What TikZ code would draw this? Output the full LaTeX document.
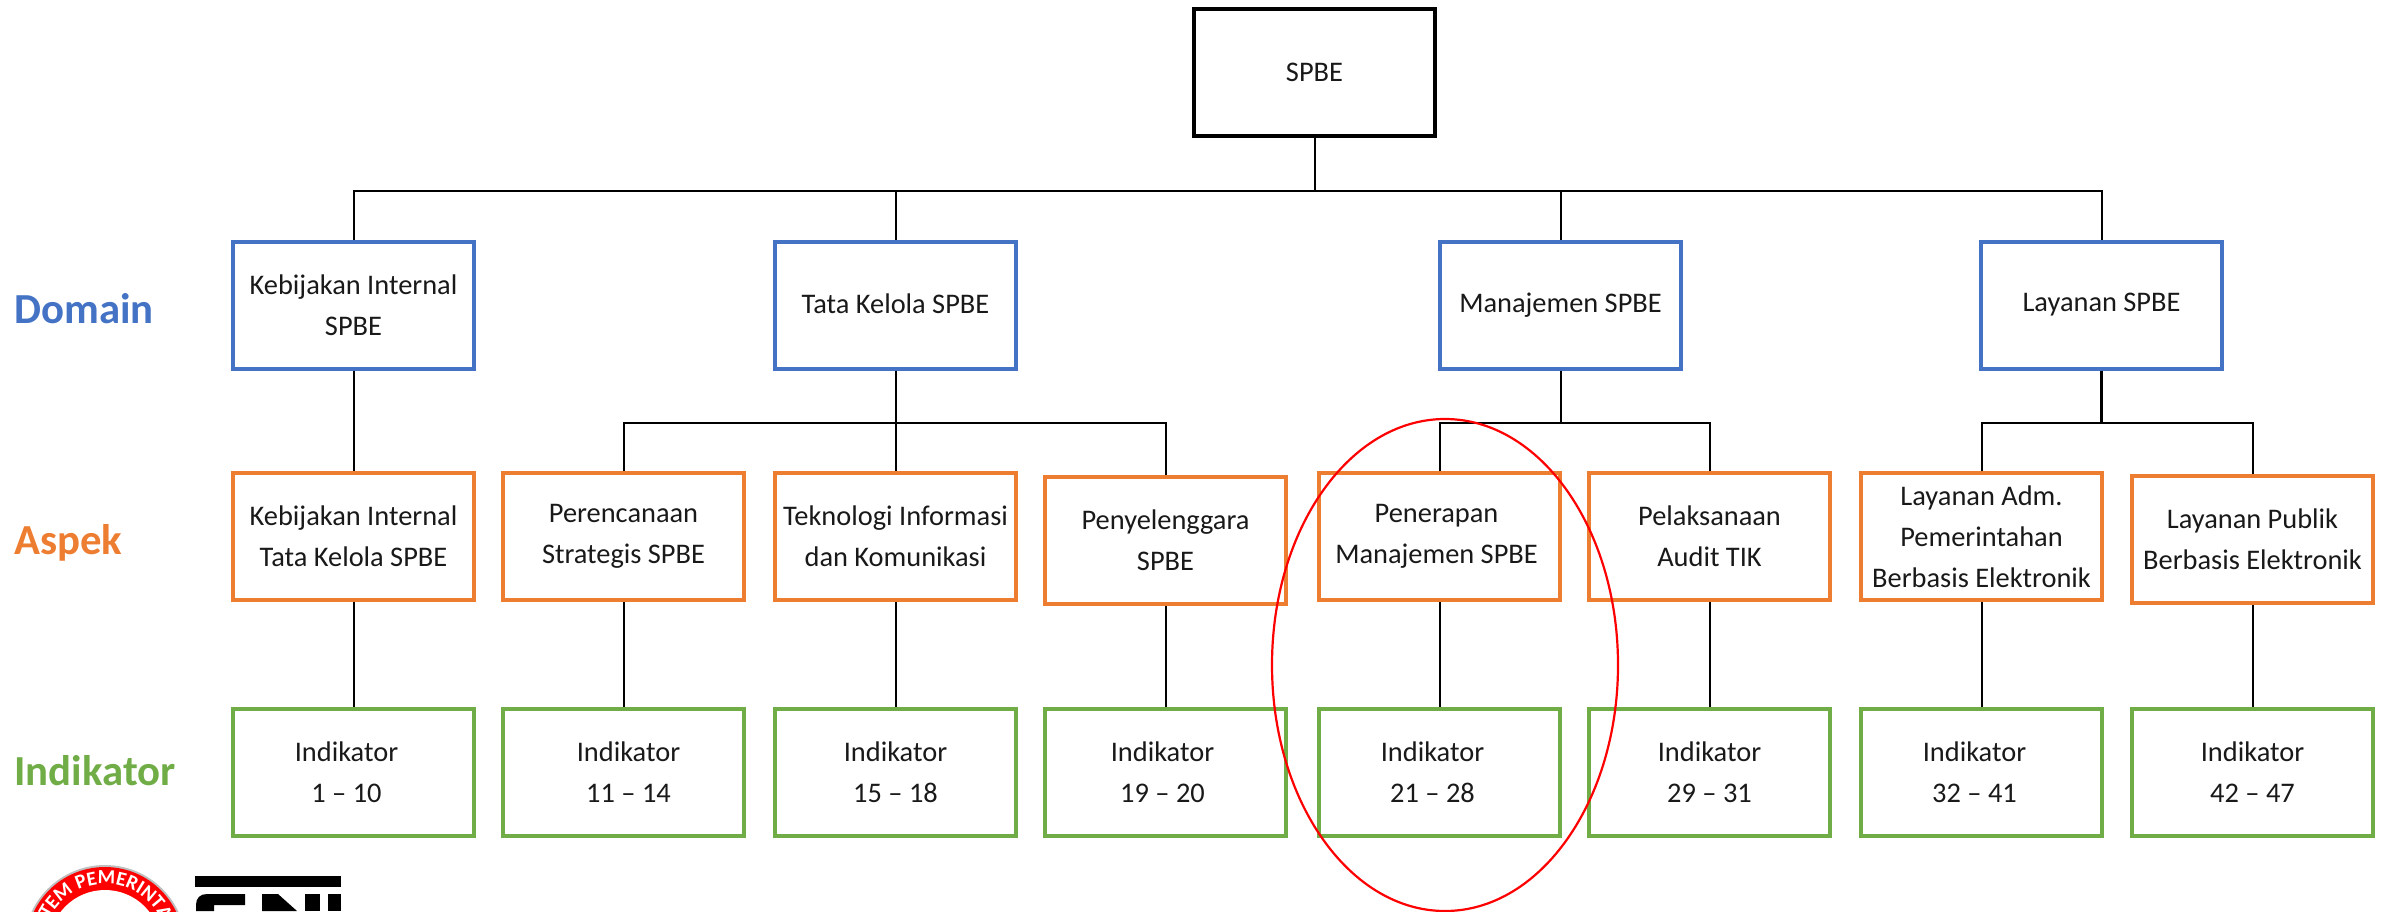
\documentclass[tikz,border=0pt]{standalone}
\usepackage{fontspec}
\setmainfont{Carlito}
\usetikzlibrary{decorations.text}
\definecolor{cblue}{HTML}{4472C4}
\definecolor{corange}{HTML}{ED7D31}
\definecolor{cgreen}{HTML}{70AD47}
\newcommand{\shl}[2][-7pt]{\hspace*{#1}#2}
\tikzset{
 x=0.5pt,y=-0.5pt,
 boxbase/.style={draw,line width=2pt,fill=white,minimum width=120.5pt,minimum height=63.5pt,inner sep=0pt,align=center,font=\fontsize{14.2}{20.5}\selectfont,anchor=north west,text=black!90},
 rootbox/.style={boxbase,draw=black},
 dombox/.style={boxbase,draw=cblue},
 aspbox/.style={boxbase,draw=corange},
 indbox/.style={boxbase,draw=cgreen},
 link/.style={draw=black,line width=1pt},
 rowlabel/.style={font=\fontsize{21.4}{24}\bfseries\selectfont,anchor=west,inner sep=0pt},
}
\begin{document}
\begin{tikzpicture}
\useasboundingbox (0,0) rectangle (2382,911);
\node[rootbox] (root) at (1192,7) {\raisebox{-4pt}{SPBE}};
\node[dombox] (d1) at (231,239.5) {Kebijakan Internal\\SPBE};
\node[dombox] (d2) at (773,239.5) {\raisebox{1pt}{Tata Kelola SPBE}};
\node[dombox] (d3) at (1438,239.5) {\raisebox{-7pt}{Manajemen SPBE}};
\node[dombox] (d4) at (1979,239.5) {\raisebox{1pt}{Layanan SPBE}};
\node[aspbox] (a1) at (231,471) {Kebijakan Internal\\Tata Kelola SPBE};
\node[aspbox] (a2) at (501,471) {Perencanaan\\Strategis SPBE};
\node[aspbox] (a3) at (773,471) {Teknologi Informasi\\dan Komunikasi};
\node[aspbox] (a4) at (1043,475) {Penyelenggara\\SPBE};
\node[aspbox] (a5) at (1317,471) {\shl[-3pt]{Penerapan}\\\shl[-3pt]{Manajemen SPBE}};
\node[aspbox] (a6) at (1587,471) {Pelaksanaan\\Audit TIK};
\node[aspbox] (a7) at (1859,471) {Layanan Adm.\\Pemerintahan\\Berbasis Elektronik};
\node[aspbox] (a8) at (2130,474) {Layanan Publik\\Berbasis Elektronik};
\node[indbox] (i1) at (231,707) {\shl{Indikator}\\\shl{1 – 10}};
\node[indbox] (i2) at (501,707) {\shl[5pt]{Indikator}\\\shl[5pt]{11 – 14}};
\node[indbox] (i3) at (773,707) {Indikator\\15 – 18};
\node[indbox] (i4) at (1043,707) {\shl[-3pt]{Indikator}\\\shl[-3pt]{19 – 20}};
\node[indbox] (i5) at (1317,707) {\shl{Indikator}\\\shl{21 – 28}};
\node[indbox] (i6) at (1587,707) {Indikator\\29 – 31};
\node[indbox] (i7) at (1859,707) {\shl{Indikator}\\\shl{32 – 41}};
\node[indbox] (i8) at (2130,707) {Indikator\\42 – 47};
\node[rowlabel,text=cblue] (ld) at (14,309) {Domain};
\node[rowlabel,text=corange] (la) at (14,543) {Aspek};
\node[rowlabel,text=cgreen] (li) at (14,771) {Indikator};
\coordinate (bus) at (0,191);
\draw[link] (root.south) -- (root.south |- bus);
\draw[link] (d1.north) -- (d1.north |- bus) -- (d4.north |- bus) -- (d4.north);
\draw[link] (d2.north) -- (d2.north |- bus);
\draw[link] (d3.north) -- (d3.north |- bus);
\coordinate (bus2) at (0,423);
\draw[link] (d1.south) -- (a1.north);
\draw[link] (d2.south) -- (a3.north);
\draw[link] (a2.north) -- (a2.north |- bus2) -- (a4.north |- bus2) -- (a4.north);
\draw[link] (d3.south) -- (d3.south |- bus2);
\draw[link] (a5.north) -- (a5.north |- bus2) -- (a6.north |- bus2) -- (a6.north);
\draw[link,line width=1.5pt] (d4.south) -- (d4.south |- bus2);
\draw[link] (a7.north) -- (a7.north |- bus2) -- (a8.north |- bus2) -- (a8.north);
\foreach \k in {1,...,8}{\draw[link] (a\k.south) -- (i\k.north);}
\draw[red,line width=1.1pt] (1445,665) ellipse [x radius=173, y radius=246];
% logos
\begin{scope}
\clip (0,855) rectangle (2382,911);
\fill[black!25] (105,946) circle [radius=81];
\fill[red] (105,946) circle [radius=79];
\fill[white] (105,946) circle [radius=56];
\path[decorate,decoration={text along path,text align=center,text={|\fontsize{10}{11}\bfseries\color{white}|TEM PEMERINTA}}]
 (105,946) ++(-154:62) arc[start angle=-154,end angle=-24,radius=62];
\fill[black] (195,876) rectangle (341,887);
\fill[black] (196,911) -- (196,905) .. controls (196,898) and (200,894) .. (207,894) -- (245,894) -- (245,905) -- (214,905) -- (214,911) -- cycle;
\fill[black] (262,911) -- (262,894) -- (278,894) -- (297,911) -- cycle;
\fill[black] (305,894) rectangle (320,911);
\fill[black] (328,894) rectangle (341,911);
\end{scope}
\end{tikzpicture}
\end{document}
